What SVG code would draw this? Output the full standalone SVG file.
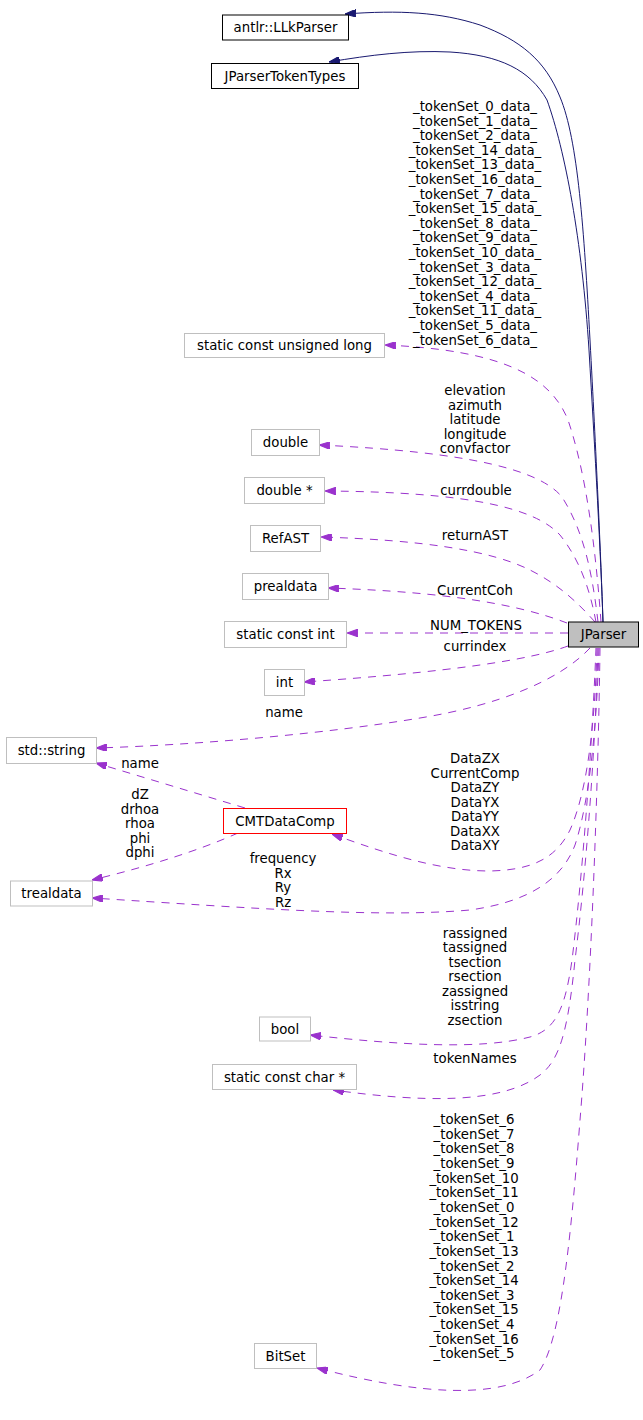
<svg xmlns="http://www.w3.org/2000/svg" width="643" height="1420" viewBox="0 0 643 1420">
<style>
text{font-family:"DejaVu Sans","Liberation Sans",sans-serif;font-size:13.3px;fill:#000;text-anchor:middle}
.n{fill:#fff;stroke:#bfbfbf;stroke-width:1}
.e{fill:none;stroke:#9a32cd;stroke-width:1;stroke-dasharray:8,7;marker-end:url(#ap)}
.i{fill:none;stroke:#191970;stroke-width:1;marker-end:url(#an)}
</style>
<defs>
<marker id="ap" viewBox="0 0 10 7" refX="10" refY="3.5" markerWidth="11" markerHeight="7.5" markerUnits="userSpaceOnUse" orient="auto"><path d="M0,0 L10,3.5 L0,7 z" fill="#9a32cd" stroke="#9a32cd"/></marker>
<marker id="an" viewBox="0 0 10 7" refX="10" refY="3.5" markerWidth="11" markerHeight="7.5" markerUnits="userSpaceOnUse" orient="auto"><path d="M0,0 L10,3.5 L0,7 z" fill="#191970" stroke="#191970"/></marker>
</defs>
<rect width="643" height="1420" fill="#fff"/>
<g id="edges">
<path class="i" d="M603,622 C601,560 596,450 590,340 C584,230 578,140 560,97 C545,60 520,40 480,25 C440,12 400,10 345,14"/>
<path class="i" d="M603,622 C601,560 595,450 589,350 C582,240 565,150 547,100 C530,70 500,55 450,52 C410,50 370,55 329,62"/>
<path class="e" d="M601,622 C595,540 585,470 568,420 C550,375 500,350 385,345"/>
<path class="e" d="M598,622 C592,570 583,530 562,497 C540,470 470,452 319,445"/>
<path class="e" d="M596,622 C590,590 580,560 560,535 C535,508 470,492 325,491"/>
<path class="e" d="M595,622 C580,605 560,585 530,570 C490,550 420,540 321,537"/>
<path class="e" d="M567,623 C520,605 450,592 328,588"/>
<path class="e" d="M568,633 L347,633"/>
<path class="e" d="M568,646 C530,660 450,672 304,682"/>
<path class="e" d="M590,648 C560,680 500,705 420,718 C330,733 200,745 96,748"/>
<path class="e" d="M245,808 L96,763"/>
<path class="e" d="M238,833 C200,850 150,866 92,880"/>
<path class="e" d="M597,648 C595,720 588,790 570,830 C555,860 530,870 490,871 C440,871 390,855 332,834"/>
<path class="e" d="M599,648 C597,720 590,800 575,845 C560,885 520,903 470,910 C380,918 250,908 92,898"/>
<path class="e" d="M596,648 C592,750 582,880 572,960 C565,1010 555,1030 530,1037 C480,1050 400,1045 310,1035"/>
<path class="e" d="M598,648 C595,760 585,880 575,960 C568,1030 560,1060 540,1075 C500,1105 420,1102 333,1090"/>
<path class="e" d="M600,648 C598,800 590,1000 580,1120 C570,1250 560,1340 540,1370 C500,1400 420,1395 317,1368"/>
</g>
<g id="labels">
<text x="475" y="111"><tspan x="475">_tokenSet_0_data_</tspan><tspan x="475" dy="14.6">_tokenSet_1_data_</tspan><tspan x="475" dy="14.6">_tokenSet_2_data_</tspan><tspan x="475" dy="14.6">_tokenSet_14_data_</tspan><tspan x="475" dy="14.6">_tokenSet_13_data_</tspan><tspan x="475" dy="14.6">_tokenSet_16_data_</tspan><tspan x="475" dy="14.6">_tokenSet_7_data_</tspan><tspan x="475" dy="14.6">_tokenSet_15_data_</tspan><tspan x="475" dy="14.6">_tokenSet_8_data_</tspan><tspan x="475" dy="14.6">_tokenSet_9_data_</tspan><tspan x="475" dy="14.6">_tokenSet_10_data_</tspan><tspan x="475" dy="14.6">_tokenSet_3_data_</tspan><tspan x="475" dy="14.6">_tokenSet_12_data_</tspan><tspan x="475" dy="14.6">_tokenSet_4_data_</tspan><tspan x="475" dy="14.6">_tokenSet_11_data_</tspan><tspan x="475" dy="14.6">_tokenSet_5_data_</tspan><tspan x="475" dy="14.6">_tokenSet_6_data_</tspan></text>
<text x="475" y="395"><tspan x="475">elevation</tspan><tspan x="475" dy="14.5">azimuth</tspan><tspan x="475" dy="14.5">latitude</tspan><tspan x="475" dy="14.5">longitude</tspan><tspan x="475" dy="14.5">convfactor</tspan></text>
<text x="476" y="495">currdouble</text>
<text x="475" y="540">returnAST</text>
<text x="475" y="595">CurrentCoh</text>
<text x="476" y="630">NUM_TOKENS</text>
<text x="475" y="651">currindex</text>
<text x="284" y="717">name</text>
<text x="140" y="768">name</text>
<text x="140" y="799"><tspan x="140">dZ</tspan><tspan x="140" dy="14.5">drhoa</tspan><tspan x="140" dy="14.5">rhoa</tspan><tspan x="140" dy="14.5">phi</tspan><tspan x="140" dy="14.5">dphi</tspan></text>
<text x="283" y="863"><tspan x="283">frequency</tspan><tspan x="283" dy="14.5">Rx</tspan><tspan x="283" dy="14.5">Ry</tspan><tspan x="283" dy="14.5">Rz</tspan></text>
<text x="475" y="763"><tspan x="475">DataZX</tspan><tspan x="475" dy="14.5">CurrentComp</tspan><tspan x="475" dy="14.5">DataZY</tspan><tspan x="475" dy="14.5">DataYX</tspan><tspan x="475" dy="14.5">DataYY</tspan><tspan x="475" dy="14.5">DataXX</tspan><tspan x="475" dy="14.5">DataXY</tspan></text>
<text x="475" y="937.5"><tspan x="475">rassigned</tspan><tspan x="475" dy="14.5">tassigned</tspan><tspan x="475" dy="14.5">tsection</tspan><tspan x="475" dy="14.5">rsection</tspan><tspan x="475" dy="14.5">zassigned</tspan><tspan x="475" dy="14.5">isstring</tspan><tspan x="475" dy="14.5">zsection</tspan></text>
<text x="475" y="1063">tokenNames</text>
<text x="474" y="1124"><tspan x="474">_tokenSet_6</tspan><tspan x="474" dy="14.65">_tokenSet_7</tspan><tspan x="474" dy="14.65">_tokenSet_8</tspan><tspan x="474" dy="14.65">_tokenSet_9</tspan><tspan x="474" dy="14.65">_tokenSet_10</tspan><tspan x="474" dy="14.65">_tokenSet_11</tspan><tspan x="474" dy="14.65">_tokenSet_0</tspan><tspan x="474" dy="14.65">_tokenSet_12</tspan><tspan x="474" dy="14.65">_tokenSet_1</tspan><tspan x="474" dy="14.65">_tokenSet_13</tspan><tspan x="474" dy="14.65">_tokenSet_2</tspan><tspan x="474" dy="14.65">_tokenSet_14</tspan><tspan x="474" dy="14.65">_tokenSet_3</tspan><tspan x="474" dy="14.65">_tokenSet_15</tspan><tspan x="474" dy="14.65">_tokenSet_4</tspan><tspan x="474" dy="14.65">_tokenSet_16</tspan><tspan x="474" dy="14.65">_tokenSet_5</tspan></text>
</g>
<g id="node_JParser"><rect x="568.5" y="622" width="70" height="25" fill="#bfbfbf" stroke="#000"/><text x="603.5" y="639">JParser</text></g>
<g id="node_LLkParser"><rect x="222.5" y="15" width="126" height="25" fill="#fff" stroke="#000"/><text x="285.5" y="32">antlr::LLkParser</text></g>
<g id="node_JParserTokenTypes"><rect x="211.5" y="63.5" width="147" height="25" fill="#fff" stroke="#000"/><text x="285" y="80.5">JParserTokenTypes</text></g>
<g id="node_ulong"><rect class="n" x="184.5" y="333.5" width="200" height="24"/><text x="284.5" y="350">static const unsigned long</text></g>
<g id="node_double"><rect class="n" x="251.5" y="429.5" width="68" height="26"/><text x="285.5" y="447">double</text></g>
<g id="node_doubleptr"><rect class="n" x="244.5" y="477.5" width="80" height="26"/><text x="284.5" y="495">double *</text></g>
<g id="node_RefAST"><rect class="n" x="250.5" y="525.5" width="70" height="26"/><text x="285.5" y="543">RefAST</text></g>
<g id="node_prealdata"><rect class="n" x="242.5" y="573.5" width="86" height="26"/><text x="285.5" y="591">prealdata</text></g>
<g id="node_sint"><rect class="n" x="224.5" y="621.5" width="122" height="26"/><text x="285.5" y="639">static const int</text></g>
<g id="node_int"><rect class="n" x="264.5" y="669.5" width="40" height="26"/><text x="284.5" y="687">int</text></g>
<g id="node_string"><rect class="n" x="6.5" y="737.5" width="90" height="26"/><text x="51.5" y="755">std::string</text></g>
<g id="node_CMTDataComp"><rect x="223.5" y="808.5" width="123" height="25" fill="#fff" stroke="#ff0000"/><text x="285" y="825.5">CMTDataComp</text></g>
<g id="node_trealdata"><rect class="n" x="10.5" y="881" width="82" height="25"/><text x="51.5" y="898">trealdata</text></g>
<g id="node_bool"><rect class="n" x="259.5" y="1017" width="51" height="24"/><text x="285" y="1033.5">bool</text></g>
<g id="node_charptr"><rect class="n" x="212.5" y="1064.5" width="144" height="25"/><text x="284.5" y="1081.5">static const char *</text></g>
<g id="node_BitSet"><rect class="n" x="254.5" y="1343.5" width="62" height="25"/><text x="285.5" y="1360.5">BitSet</text></g>
</svg>
